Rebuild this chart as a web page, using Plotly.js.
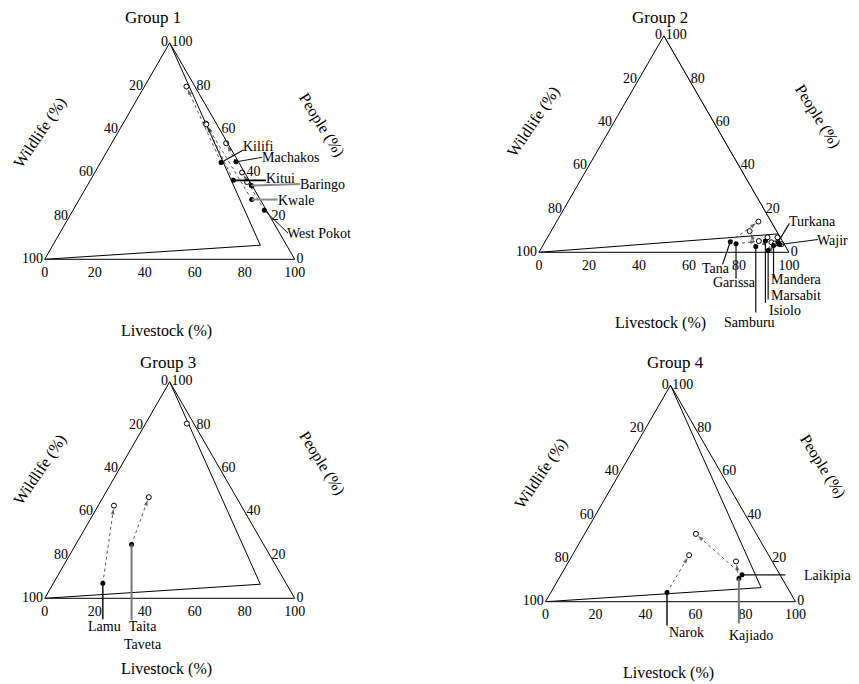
<!DOCTYPE html>
<html><head><meta charset="utf-8">
<script src="https://cdn.plot.ly/plotly-3.0.1.min.js"></script>
<style>html,body{margin:0;padding:0;background:#fff}</style>
</head><body><div id="chart" style="width:859px;height:684px"></div>
<script>
// ---------------- DATA (percentages: People, Wildlife, Livestock) ----------------
const tickValues = [0, 20, 40, 60, 80, 100];
const tickLabels = ['100', '80', '60', '40', '20', '0'];

// Group 1
const g1Names = ['Kilifi', 'Machakos', 'Kitui', 'Baringo', 'Kwale', 'West Pokot'];
const g1OpenPeople    = [79.8, 53.6, 62.7, 35.7, 62.3, 40.1];
const g1OpenWildlife  = [3.4, 0.6, 4.2, 1.2, 4.2, 1.0];
const g1OpenLivestock = [16.8, 45.8, 33.1, 63.1, 33.5, 58.9];
const g1FillPeople    = [44.7, 45.0, 36.5, 34.1, 27.6, 22.7];
const g1FillWildlife  = [7.1, 1.0, 6.3, 0.3, 3.4, 0.8];
const g1FillLivestock = [48.2, 54.0, 57.2, 65.6, 69.0, 76.5];
const g1BoundPeople    = [0, 6.5, 100];
const g1BoundWildlife  = [100, 10.5, 0];
const g1BoundLivestock = [0, 83, 0];

// Group 2
const g2Names = ['Tana', 'Garissa', 'Samburu', 'Isiolo', 'Marsabit', 'Mandera', 'Turkana', 'Wajir'];
const g2OpenPeople    = [14.2, 5.2, 9.8, 6.9, 4.6, 4.1, 6.9, 3.8];
const g2OpenWildlife  = [5.1, 9.4, 10.8, 5.1, 4.7, 3.5, 1.1, 1.0];
const g2OpenLivestock = [80.7, 85.4, 79.4, 88.0, 90.7, 92.4, 92.0, 95.2];
const g2FillPeople    = [4.9, 3.9, 2.7, 5.2, 0.8, 3.1, 4.6, 3.6];
const g2FillWildlife  = [21.0, 19.2, 11.9, 6.8, 7.9, 4.6, 2.1, 1.9];
const g2FillLivestock = [74.1, 76.9, 85.4, 88.0, 91.3, 92.3, 93.3, 94.5];
const g2BoundPeople    = [0, 8.5, 100];
const g2BoundWildlife  = [100, 0, 0];
const g2BoundLivestock = [0, 91.5, 0];

// Group 3
const g3Names = ['Lamu', 'Taita Taveta'];
const g3OpenPeople    = [42.8, 46.7];
const g3OpenWildlife  = [50.9, 35.0];
const g3OpenLivestock = [6.3, 18.3];
const g3FillPeople    = [6.9, 24.9];
const g3FillWildlife  = [73.3, 52.8];
const g3FillLivestock = [19.8, 22.3];
const g3ExtraPeople = [80.7], g3ExtraWildlife = [2.8], g3ExtraLivestock = [16.5];
const g3BoundPeople    = [0, 6.5, 100];
const g3BoundWildlife  = [100, 10.5, 0];
const g3BoundLivestock = [0, 83, 0];

// Group 4
const g4Names = ['Narok', 'Kajiado', 'Laikipia'];
const g4OpenPeople    = [21.5, 18.6, 31.3];
const g4OpenWildlife  = [31.8, 14.5, 24.2];
const g4OpenLivestock = [46.7, 66.9, 44.5];
const g4FillPeople    = [4.2, 10.7, 12.4];
const g4FillWildlife  = [49.3, 17.3, 15.2];
const g4FillLivestock = [46.5, 72.0, 72.4];
const g4BoundPeople    = [0, 6.5, 100];
const g4BoundWildlife  = [100, 10.5, 0];
const g4BoundLivestock = [0, 83, 0];

// ---------------- LAYOUT / STYLE (pixel offsets of leader lines and labels from the filled point) ----------------
const labelStyle = {
  'Kilifi':      {lead:[22.6,-12.7], txt:[36.8,-16], col:'#111', w:1.2},
  'Machakos':    {lead:[26.3,-4.6],  txt:[54.7,-4.6], col:'#111', w:1},
  'Kitui':       {lead:[32.7,0],     txt:[47.3,-2], col:'#000', w:1.8},
  'Baringo':     {lead:[48.6,-1.4],  txt:[71.3,-1], col:'#8a8a8a', w:2},
  'Kwale':       {lead:[26,0],       txt:[44.8,0.7], col:'#8a8a8a', w:2},
  'West Pokot':  {lead:[23.7,23],    txt:[55,23.7], col:'#111', w:1},
  'Tana':        {lead:[-7.7,22.7],  txt:[-13.8,27], col:'#111', w:1.2},
  'Garissa':     {lead:[0,34],       txt:[-2,39], col:'#111', w:1.2},
  'Samburu':     {lead:[0,66],       txt:[-6,76], col:'#111', w:1.2},
  'Isiolo':      {lead:[0,62],       txt:[20,69], col:'#111', w:1.2},
  'Marsabit':    {lead:[0,49],       txt:[27.5,45], col:'#111', w:1.2},
  'Mandera':     {lead:[0,33],       txt:[23.4,34], col:'#111', w:1.2},
  'Turkana':     {lead:[11.5,-19],   txt:[34.5,-20.5], col:'#111', w:1.2},
  'Wajir':       {lead:[38.3,-5],    txt:[53.3,-4], col:'#111', w:1.2},
  'Lamu':        {lead:[0,36],       txt:[1.5,43], col:'#111', w:1.5},
  'Taita Taveta':{lead:[0,76],       txt:[11.7,91], col:'#777', w:2, disp:'Taita<br>Taveta'},
  'Narok':       {lead:[0,33],       txt:[19.5,40], col:'#111', w:1.5},
  'Kajiado':     {lead:[0,45],       txt:[12.5,56.7], col:'#777', w:2},
  'Laikipia':    {lead:[43.4,0],     txt:[85.9,0.6], col:'#111', w:1.2}
};

const FW = 859, FH = 684, S = 250, H = S * Math.sqrt(3) / 2;
const FONT = '"Liberation Serif", "Times New Roman", Times, "DejaVu Serif", serif';

const panels = [
  {id:'ternary',  cx:169.7, base:259.3, title:'Group 1', tpos:[153,17],    wild:[40,133],      people:[321.7,125],   live:[166.7,331]},
  {id:'ternary2', cx:663.9, base:252.3, title:'Group 2', tpos:[660,17],    wild:[533.3,121.7], people:[818.3,116.7], live:[660,322.7]},
  {id:'ternary3', cx:169.7, base:598.3, title:'Group 3', tpos:[168,362],   wild:[40,470],      people:[321.7,463.3], live:[166.7,669.3]},
  {id:'ternary4', cx:670.5, base:601.7, title:'Group 4', tpos:[675.7,362], wild:[541.7,473.3], people:[823.3,466.7], live:[668.3,672.7]}
];

const groups = [
  {names:g1Names, oP:g1OpenPeople, oW:g1OpenWildlife, oL:g1OpenLivestock, fP:g1FillPeople, fW:g1FillWildlife, fL:g1FillLivestock, bP:g1BoundPeople, bW:g1BoundWildlife, bL:g1BoundLivestock},
  {names:g2Names, oP:g2OpenPeople, oW:g2OpenWildlife, oL:g2OpenLivestock, fP:g2FillPeople, fW:g2FillWildlife, fL:g2FillLivestock, bP:g2BoundPeople, bW:g2BoundWildlife, bL:g2BoundLivestock},
  {names:g3Names, oP:g3OpenPeople, oW:g3OpenWildlife, oL:g3OpenLivestock, fP:g3FillPeople, fW:g3FillWildlife, fL:g3FillLivestock, bP:g3BoundPeople, bW:g3BoundWildlife, bL:g3BoundLivestock,
   xP:g3ExtraPeople, xW:g3ExtraWildlife, xL:g3ExtraLivestock},
  {names:g4Names, oP:g4OpenPeople, oW:g4OpenWildlife, oL:g4OpenLivestock, fP:g4FillPeople, fW:g4FillWildlife, fL:g4FillLivestock, bP:g4BoundPeople, bW:g4BoundWildlife, bL:g4BoundLivestock}
];

// ternary value -> pixel position inside the panel's ternary domain (same geometry Plotly uses)
function toPx(pn, p, w, l) {
  const sum = p + w + l;
  return [pn.cx - S / 2 + (l + p / 2) / sum * S, pn.base - p / sum * H];
}

const traces = [];
const layout = {
  width: FW, height: FH, margin:{l:0,r:0,t:0,b:0},
  paper_bgcolor:'white', plot_bgcolor:'white', showlegend:false,
  font:{family:FONT, color:'black', size:14},
  annotations: [], shapes: []
};

function axisDef() {
  return {
    min:0, tickmode:'array', tickvals:tickValues, ticktext:tickLabels,
    showgrid:false, showline:true, linecolor:'black', linewidth:1,
    ticks:'', showticklabels:true,
    tickfont:{family:FONT, size:14, color:'black'},
    title:{text:''}
  };
}

const ann = (txt, p, size, angle) => ({text:txt, x:p[0]/FW, y:1 - p[1]/FH, xref:'paper', yref:'paper',
  xanchor:'center', yanchor:'middle', showarrow:false, textangle:angle,
  font:{family:FONT, size:size, color:'black'}});

panels.forEach((pn, gi) => {
  const g = groups[gi];
  const x0 = pn.cx - S/2, x1 = pn.cx + S/2, yb = pn.base, yt = pn.base - H;
  layout[pn.id] = {
    domain:{x:[x0/FW, x1/FW], y:[1 - yb/FH, 1 - yt/FH]},
    sum:100, bgcolor:'rgba(0,0,0,0)',
    aaxis:axisDef(), baxis:axisDef(), caxis:axisDef()
  };
  const base = {type:'scatterternary', subplot:pn.id, hoverinfo:'skip', cliponaxis:false};

  // boundary polyline
  traces.push(Object.assign({}, base, {mode:'lines', a:g.bP, b:g.bW, c:g.bL,
    line:{color:'black', width:1}}));

  // trajectories filled -> open with arrowhead
  g.names.forEach((n, i) => {
    traces.push(Object.assign({}, base, {mode:'lines+markers',
      a:[g.fP[i], g.oP[i]], b:[g.fW[i], g.oW[i]], c:[g.fL[i], g.oL[i]],
      line:{color:'#555', width:1, dash:'dot'},
      marker:{symbol:['circle','arrow'], size:[0,6], color:'#222', angleref:'previous', standoff:3, line:{width:0}}
    }));
  });

  // open markers
  traces.push(Object.assign({}, base, {mode:'markers', a:g.oP, b:g.oW, c:g.oL,
    marker:{symbol:'circle', size:5, color:'white', line:{color:'black', width:1}}}));
  if (g.xP) {
    traces.push(Object.assign({}, base, {mode:'markers', a:g.xP, b:g.xW, c:g.xL,
      marker:{symbol:'circle', size:5, color:'white', line:{color:'black', width:1}}}));
  }
  // filled markers
  traces.push(Object.assign({}, base, {mode:'markers', a:g.fP, b:g.fW, c:g.fL,
    marker:{symbol:'circle', size:5, color:'black'}}));

  // leader lines and county labels, anchored at each filled point
  g.names.forEach((n, i) => {
    const st = labelStyle[n];
    const d = toPx(pn, g.fP[i], g.fW[i], g.fL[i]);
    const e = [d[0] + st.lead[0], d[1] + st.lead[1]];
    layout.shapes.push({type:'line', xref:'paper', yref:'paper', layer:'above',
      x0:d[0]/FW, y0:1 - d[1]/FH, x1:e[0]/FW, y1:1 - e[1]/FH,
      line:{color:st.col, width:st.w}});
    const t = [d[0] + st.txt[0], d[1] + st.txt[1]];
    layout.annotations.push(ann(st.disp || n, t, 14, 0));
  });

  // titles
  layout.annotations.push(ann(pn.title, pn.tpos, 17, 0));
  layout.annotations.push(ann('Wildlife (%)', pn.wild, 16, -56));
  layout.annotations.push(ann('People (%)', pn.people, 16, 58));
  layout.annotations.push(ann('Livestock (%)', pn.live, 16, 0));
});

Plotly.newPlot('chart', traces, layout, {displayModeBar:false, staticPlot:true});
</script>
</body></html>
